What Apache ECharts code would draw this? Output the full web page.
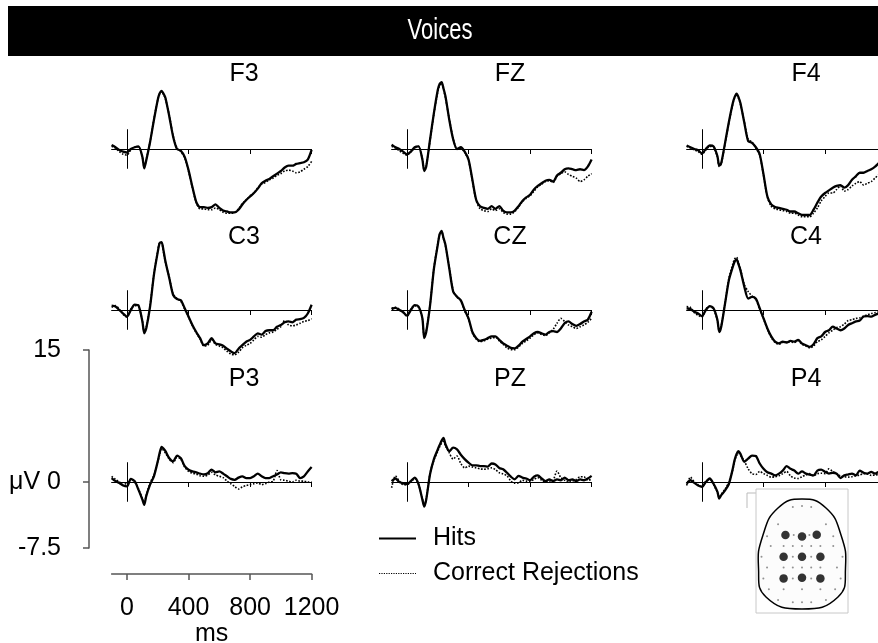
<!DOCTYPE html>
<html>
<head>
<meta charset="utf-8">
<title>Voices</title>
<script src="https://cdn.jsdelivr.net/npm/echarts@6/dist/echarts.min.js"></script>
<style>
  html, body { margin: 0; padding: 0; background: #fff; }
  #main { width: 878px; height: 643px; }
</style>
</head>
<body>
<div id="main"></div>
<script>
// sample times in ms
const times = [-100, -75, -50, -25, 0, 25, 50, 75, 100, 112, 125, 150, 175, 200, 212, 225, 237,
  250, 275, 300, 325, 350, 375, 400, 425, 450, 475, 500, 525, 550, 575, 600, 625, 650, 675,
  700, 725, 750, 775, 800, 825, 850, 875, 900, 925, 950, 975, 1000, 1025, 1050, 1075, 1100, 1125,
  1150, 1175, 1200];

// amplitudes in microvolts, one value per time point
const f3Hits = [0.45, 0.2, -0.1, -0.3, -0.4, 0, 0.2, 0.3, -0.9,
  -2.2, -1.3, 0.8, 3.3, 5.6, 6.3, 6.6, 6.3,
  5.8, 3.7, 1.4, 0, -0.2, -0.9, -2.4, -4.3, -6.0,
  -6.6, -6.6, -6.7, -6.6, -6.3, -6.7, -7.0, -7.1, -7.2,
  -7.2, -6.9, -6.3, -5.8, -5.4, -5.0, -4.5, -3.9, -3.6,
  -3.4, -3.1, -2.8, -2.5, -2.1, -1.9, -1.9, -1.7, -1.6,
  -1.5, -1.2, -0.1];
const f3Cr = [0.3, 0.1, -0.3, -0.6, -0.7, -0.1, 0.2, 0.2, -0.9,
  -2.1, -1.2, 0.8, 3.4, 5.6, 6.3, 6.5, 6.2,
  5.7, 3.8, 1.5, 0.1, -0.3, -1.0, -2.5, -4.4, -6.1,
  -6.8, -6.8, -6.9, -6.9, -6.7, -6.9, -7.2, -7.3, -7.3,
  -7.2, -6.8, -6.2, -5.8, -5.3, -5.0, -4.4, -4.0, -3.8,
  -3.5, -3.3, -3.0, -2.8, -2.5, -2.4, -2.5, -2.7, -2.6,
  -2.3, -2.0, -1.4];
const fzHits = [0.5, 0.2, 0, -0.3, -0.6, -0.3, 0.2, 0.3, -1.2,
  -2.5, -2.0, 1.1, 4.1, 6.7, 7.4, 7.6, 6.9,
  6.0, 3.3, 1.1, 0, 0.2, -0.3, -1.2, -3.5, -5.8,
  -6.5, -6.7, -6.8, -6.5, -6.8, -6.5, -7.0, -7.2, -7.2,
  -7.0, -6.5, -5.9, -5.5, -5.2, -4.6, -4.2, -3.9, -3.6,
  -3.5, -3.7, -3.0, -2.7, -2.3, -2.2, -2.3, -2.4, -2.3,
  -2.4, -2.0, -1.2];
const fzCr = [0.3, 0.1, -0.2, -0.5, -0.7, -0.3, 0.1, 0.3, -1.1,
  -2.4, -1.9, 1.0, 4.0, 6.5, 7.2, 7.5, 6.8,
  5.8, 3.4, 1.2, 0, 0.1, -0.4, -1.3, -3.6, -5.9,
  -6.8, -7.0, -7.1, -6.8, -7.0, -6.8, -7.2, -7.4, -7.4,
  -7.1, -6.6, -6.0, -5.6, -5.3, -4.8, -4.3, -4.0, -3.7,
  -3.6, -3.8, -3.1, -2.8, -2.6, -2.9, -3.1, -3.3, -3.7,
  -3.5, -3.1, -2.8];
const f4Hits = [0.4, 0.2, 0, -0.15, -0.5, 0, 0.4, 0.3, -0.8,
  -1.9, -1.6, 0.7, 3.1, 5.2, 5.9, 6.3, 5.9,
  5.2, 3.0, 0.9, 0.7, 0.2, -0.6, -2.9, -5.4, -6.3,
  -6.6, -6.7, -6.8, -6.9, -7.1, -7.1, -7.3, -7.5, -7.5,
  -7.5, -6.9, -6.1, -5.4, -5.0, -4.7, -4.4, -4.2, -4.1,
  -4.4, -4.1, -3.5, -3.1, -2.7, -2.7, -2.5, -2.3, -2.0,
  -1.6, -1.3, -1.0];
const f4Cr = [0.3, 0.1, -0.1, -0.3, -0.6, -0.1, 0.3, 0.2, -0.9,
  -2.0, -1.7, 0.6, 3.0, 5.1, 5.8, 6.2, 5.8,
  5.1, 3.1, 1.1, 0.8, 0.1, -0.7, -3.0, -5.5, -6.5,
  -6.8, -6.9, -7.0, -7.1, -7.3, -7.3, -7.5, -7.7, -7.7,
  -7.7, -7.3, -6.7, -5.9, -5.4, -5.0, -5.0, -4.6, -4.2,
  -4.8, -4.6, -4.2, -3.9, -3.7, -4.1, -3.9, -3.7, -3.3,
  -2.9, -2.6, -2.3];
const c3Hits = [0.5, 0.4, 0, -0.4, -0.75, 0, 0.6, 0.5, -1.3,
  -2.65, -2.1, 0.4, 4.0, 6.6, 7.6, 7.7, 6.8,
  5.5, 3.6, 1.7, 1.25, 1.1, 0.2, -0.75, -1.7, -2.5,
  -3.2, -4.0, -3.8, -3.2, -3.8, -3.9, -4.05, -4.4, -4.7,
  -4.9, -4.4, -4.0, -3.6, -3.4, -3.0, -2.65, -2.8, -2.4,
  -2.3, -2.3, -1.9, -1.7, -1.4, -1.3, -1.4, -1.1, -1.05,
  -0.9, -0.4, 0.6];
const c3Cr = [0.3, 0.5, 0.1, -0.5, -0.8, 0.1, 0.5, 0.4, -1.2,
  -2.5, -2.0, 0.5, 4.1, 6.7, 7.6, 7.6, 6.6,
  5.4, 3.7, 1.8, 1.3, 1.0, 0.1, -0.8, -1.8, -2.6,
  -3.3, -4.1, -4.0, -3.4, -3.9, -4.1, -4.3, -4.7, -5.0,
  -5.1, -4.8, -4.3, -4.0, -3.8, -3.4, -3.0, -3.1, -2.8,
  -2.6, -2.5, -2.2, -1.9, -1.2, -1.7, -1.8, -1.7, -1.5,
  -1.3, -1.2, -1.0];
const czHits = [0.1, 0.25, 0, -0.25, -0.65, 0, 0.55, 0.4, -0.95,
  -3.2, -2.5, 0.55, 4.7, 7.4, 8.6, 9.0, 8.2,
  7.4, 4.7, 2.1, 1.5, 1.1, 0, -0.95, -2.5, -3.2,
  -3.5, -3.4, -3.2, -3.0, -3.0, -3.4, -3.8, -4.05, -4.3,
  -4.35, -4.05, -3.6, -3.3, -3.0, -2.65, -2.5, -2.65, -2.8,
  -2.5, -2.4, -2.5, -2.1, -1.5, -1.3, -1.6, -1.8, -1.6,
  -1.3, -1.1, -0.2];
const czCr = [0.2, 0.3, 0.1, -0.3, -0.7, 0.1, 0.5, 0.3, -1.0,
  -3.1, -2.4, 0.6, 4.8, 7.5, 8.6, 8.9, 8.1,
  7.3, 4.8, 2.2, 1.5, 1.0, -0.1, -1.0, -2.6, -3.3,
  -3.6, -3.5, -3.3, -3.2, -3.1, -3.5, -3.9, -4.3, -4.5,
  -4.5, -4.2, -3.8, -3.5, -3.2, -2.8, -2.6, -2.8, -2.9,
  -2.6, -2.2, -1.5, -0.95, -1.3, -1.7, -1.9, -2.1, -1.9,
  -1.7, -1.4, -0.95];
const c4Hits = [0.2, 0.1, -0.2, -0.4, -0.7, 0, 0.45, 0.2, -1.1,
  -2.5, -1.9, 0.75, 3.4, 4.9, 5.5, 5.75, 5.2,
  4.5, 2.65, 1.3, 1.5, 1.3, 0.2, -0.95, -2.1, -3.0,
  -3.6, -3.8, -3.6, -3.7, -3.5, -3.6, -3.4, -3.8, -4.0,
  -4.2, -3.9, -3.2, -3.0, -2.5, -2.3, -1.9, -2.1, -2.3,
  -2.1, -1.7, -1.5, -1.3, -1.2, -0.75, -0.7, -0.75, -0.55,
  -0.4, -0.3, -0.2];
const c4Cr = [0.4, 0.3, -0.3, -0.6, -0.8, 0.1, 0.4, 0.1, -1.2,
  -2.4, -1.8, 0.8, 3.6, 5.2, 5.8, 6.0, 5.4,
  4.6, 2.9, 2.1, 1.6, 1.2, 0.1, -1.0, -2.2, -3.1,
  -3.7, -3.9, -3.7, -3.6, -3.6, -3.7, -3.5, -3.9, -4.1,
  -4.3, -4.1, -3.6, -3.4, -3.0, -2.6, -2.3, -2.0, -1.9,
  -1.6, -1.2, -1.1, -0.95, -0.9, -0.7, -0.55, -0.4, -0.3,
  -0.2, -0.1, -0.1];
const p3Hits = [0.45, 0.1, -0.1, -0.4, -0.5, 0.35, 0.1, -0.9, -2.0,
  -2.6, -1.6, -0.3, 0.65, 2.35, 3.3, 4.0, 3.8,
  3.5, 2.7, 2.35, 3.0, 2.7, 1.8, 1.4, 1.2, 1.1,
  0.95, 0.85, 1.0, 1.4, 1.1, 1.2, 0.95, 0.65, 0.35,
  0.25, 0.5, 0.65, 0.45, 0.45, 0.65, 0.95, 0.65, 0.45,
  0.45, 0.65, 0.85, 1.1, 1.0, 0.95, 1.0, 0.95, 0.45,
  0.65, 1.2, 1.7];
const p3Cr = [0.65, 0.3, 0.0, -0.3, -0.1, 0.3, 0.0, -0.8, -1.9,
  -2.5, -1.5, -0.1, 0.8, 2.3, 3.1, 3.8, 3.6,
  3.3, 2.6, 2.2, 2.8, 2.6, 1.7, 1.2, 1.0, 0.9,
  0.7, 0.65, 0.8, 1.1, 0.8, 0.65, 0.5, 0.1, -0.2,
  -0.5, -0.8, -0.55, -0.4, -0.3, -0.2, -0.1, -0.3, -0.2,
  0.0, 0.1, 1.3, 0.25, 0.2, 0.1, 0.0, 0.2, 0.1,
  0.1, 0.0, 0.0];
const pzHits = [0.1, 0.4, 0, -0.15, -0.25, 0.1, 0.5, -0.25, -2.0,
  -2.8, -2.0, 0.9, 2.6, 3.7, 4.2, 4.7, 5.0,
  4.3, 3.5, 3.9, 3.7, 3.1, 2.6, 2.2, 1.9, 1.9,
  1.8, 1.8, 1.75, 2.1, 2.0, 1.6, 1.45, 1.05, 0.6,
  0.3, 0.7, 0.5, 0.4, 0.2, 0.6, 0.75, 0.4, 0.1,
  0.3, 0.1, 0.3, 0.2, 0.5, 0.2, 0.3, 0.1, 0.3,
  0.2, 0.4, 0.7];
const pzCr = [-0.65, 0.7, 0.1, -0.3, -0.3, 0.0, 0.4, -0.3, -1.9,
  -2.7, -1.9, 1.0, 2.5, 3.5, 4.0, 4.4, 4.6,
  4.1, 3.3, 2.6, 2.95, 2.1, 1.6, 1.8, 1.7, 1.6,
  1.5, 1.45, 1.5, 1.6, 1.4, 1.05, 0.9, 0.7, 0.1,
  -0.15, -0.1, 0.2, 0.1, 0.1, 0.3, 0.5, 0.2, 0.0,
  0.1, 0.2, 1.25, 0.5, 0.2, -0.05, 0.1, 0.3, 0.6,
  0.6, 0.2, 0.3];
const p4Hits = [-0.2, 0.2, -0.1, -0.4, -0.55, 0, 0.4, -0.2, -1.1,
  -1.9, -1.5, -0.95, -0.2, 1.5, 2.5, 3.2, 3.5,
  3.2, 2.3, 2.65, 3.0, 2.95, 2.1, 1.5, 1.1, 0.95,
  0.75, 0.95, 1.3, 1.8, 1.5, 1.3, 0.95, 1.2, 0.95,
  0.85, 0.75, 1.3, 1.4, 1.15, 0.95, 1.05, 0.95, 0.45,
  0.75, 0.85, 0.95, 0.75, 1.3, 1.05, 0.95, 1.15, 0.95,
  1.15, 1.0, 1.0];
const p4Cr = [-0.4, 0.55, 0.0, -0.3, -0.5, 0.1, 0.3, -0.3, -1.2,
  -1.8, -1.4, -0.8, 0.0, 1.4, 2.4, 3.0, 3.3,
  3.0, 2.4, 1.5, 0.95, 0.85, 1.2, 0.95, 0.75, 0.55,
  0.6, 0.7, 0.95, 1.2, 0.7, 0.45, 0.4, 0.6, 0.8,
  0.95, 0.7, 0.95, 1.0, 0.95, 1.5, 1.2, 0.9, 0.7,
  0.6, 0.55, 0.6, 0.7, 0.8, 0.95, 0.9, 0.75, 0.8,
  0.85, 0.9, 0.9];

const electrodes = ['F3', 'FZ', 'F4', 'C3', 'CZ', 'C4', 'P3', 'PZ', 'P4'];
const hitsData = [f3Hits, fzHits, f4Hits, c3Hits, czHits, c4Hits, p3Hits, pzHits, p4Hits];
const crData = [f3Cr, fzCr, f4Cr, c3Cr, czCr, c4Cr, p3Cr, pzCr, p4Cr];

// head map: electrode sites and the small reference dots (head units)
const siteXY = [[-0.9, 1.0], [0, 0.93], [0.8, 1.02], [-1, 0], [0, 0], [1, 0], [-1, -1], [0, -0.97], [1, -1]];
const gridDots = [[-0.5, 2.3], [0, 2.35], [0.5, 2.3], [-1.3, 1.5], [1.3, 1.5],
  [-1.9, 0.95], [-0.45, 1.0], [0.4, 1.0], [1.7, 0.95],
  [-1.7, 0.5], [-1.0, 0.5], [-0.5, 0.5], [0, 0.5], [0.5, 0.5], [1.0, 0.5], [1.7, 0.5],
  [-2.2, 0], [-0.5, 0], [0.5, 0], [2.2, 0],
  [-1.9, -0.5], [-1.0, -0.5], [-0.5, -0.5], [0, -0.5], [0.5, -0.5], [1.0, -0.5], [1.9, -0.5],
  [-2.1, -1], [-0.5, -1], [0.5, -1], [2.1, -1],
  [-1.8, -1.5], [-1, -1.5], [0, -1.5], [1, -1.5], [1.8, -1.5],
  [-1.3, -2.0], [-0.5, -2.1], [0, -2.1], [0.5, -2.1], [1.3, -2.0]];

const scaleTicks = [-7.5, 0, 15];
const timeTicks = [0, 400, 800, 1200];

// layout
const FONT = '"Liberation Sans", Arial, sans-serif';
const colZero = [127, 407, 702];   // x pixel of 0 ms per column
const rowBase = [149, 310, 482];   // y pixel of 0 uV per row
const labelX = [244, 510, 806];
const labelY = [74, 237, 379];
const PX_UV = 8.8;
const PANEL_W = 200;
const PRE = 100 * PANEL_W / 1300;
const HALF = 2.2;

const chart = echarts.init(document.getElementById('main'));

const grid = [], xAxis = [], yAxis = [], series = [];
const graphic = [
  { type: 'rect', shape: { x: 8, y: 6, width: 870, height: 50 }, style: { fill: '#000' } },
  { type: 'text', x: 440, y: 31, scaleX: 0.76, style: { text: 'Voices', fill: '#fff', align: 'center', verticalAlign: 'middle',
    font: '29px ' + FONT } }
];

electrodes.forEach((name, i) => {
  const c = i % 3, r = Math.floor(i / 3);
  grid.push({ left: colZero[c] - PRE, top: rowBase[r] - HALF * PX_UV, width: PANEL_W, height: 2 * HALF * PX_UV,
    outerBoundsMode: 'none' });
  xAxis.push({
    type: 'value', gridIndex: i, min: -100, max: 1200,
    axisLine: { onZero: true, lineStyle: { color: '#000', width: 1 } },
    axisTick: { show: true, length: 5, customValues: [400, 800, 1200], lineStyle: { color: '#000' } },
    axisLabel: { show: false }, splitLine: { show: false }
  });
  yAxis.push({
    type: 'value', gridIndex: i, min: -HALF, max: HALF,
    axisLine: { show: true, onZero: true, lineStyle: { color: '#000', width: 1 } },
    axisTick: { show: false }, axisLabel: { show: false }, splitLine: { show: false }
  });
  series.push({
    name: 'Correct Rejections', type: 'line', xAxisIndex: i, yAxisIndex: i,
    data: times.map((t, k) => [t, crData[i][k]]),
    symbol: 'none', clip: false, smooth: 0.25,
    itemStyle: { color: '#000' },
    lineStyle: { color: '#000', width: 1.6, type: 'dotted' }
  });
  series.push({
    name: 'Hits', type: 'line', xAxisIndex: i, yAxisIndex: i,
    data: times.map((t, k) => [t, hitsData[i][k]]),
    symbol: 'none', clip: false, smooth: 0.25,
    itemStyle: { color: '#000' },
    lineStyle: { color: '#000', width: 2.3 }
  });
  graphic.push({ type: 'text', x: labelX[c], y: labelY[r],
    style: { text: name, fill: '#000', align: 'center', verticalAlign: 'middle', font: '25px ' + FONT } });
});

// amplitude scale bar
const gScale = grid.length;
grid.push({ left: 89, top: rowBase[2] - 15 * PX_UV, width: 10, height: 22.5 * PX_UV, outerBoundsMode: 'none' });
xAxis.push({ type: 'value', gridIndex: gScale, min: 0, max: 1, show: false });
yAxis.push({
  type: 'value', gridIndex: gScale, min: -7.5, max: 15,
  axisLine: { show: true, onZero: false, lineStyle: { color: '#555', width: 1.5 } },
  axisTick: { show: true, length: 6, customValues: scaleTicks, lineStyle: { color: '#555', width: 1.5 } },
  axisLabel: {
    customValues: scaleTicks, margin: 28, color: '#000', fontFamily: FONT, fontSize: 25,
    formatter: v => v === 0 ? '{u|μV}0' : String(v),
    rich: { u: { width: 38, align: 'left', fontFamily: FONT, fontSize: 25, color: '#000' } }
  },
  splitLine: { show: false }
});

// time scale bar
const gTime = grid.length;
grid.push({ left: colZero[0] - PRE, top: 560, width: PANEL_W, height: 14, outerBoundsMode: 'none' });
xAxis.push({
  type: 'value', gridIndex: gTime, min: -100, max: 1200,
  axisLine: { onZero: false, lineStyle: { color: '#555', width: 1.5 } },
  axisTick: { show: true, length: 6, customValues: timeTicks, lineStyle: { color: '#555', width: 1.5 } },
  axisLabel: { customValues: timeTicks, margin: 22, color: '#000', fontFamily: FONT, fontSize: 25,
    formatter: v => String(v) },
  splitLine: { show: false },
  name: 'ms', nameLocation: 'middle', nameGap: 47,
  nameTextStyle: { color: '#000', fontFamily: FONT, fontSize: 25 }
});
yAxis.push({ type: 'value', gridIndex: gTime, min: 0, max: 1, show: false });

// head inset
const gHead = grid.length;
graphic.push({ type: 'polyline', shape: { points: [[747, 508], [747, 493], [756, 493]] },
  style: { stroke: '#bbb', lineWidth: 1, fill: null } });
graphic.push({ type: 'rect', shape: { x: 756, y: 489, width: 92, height: 124 },
  style: { stroke: '#c8c8c8', lineWidth: 1, fill: '#fff' } });
graphic.push({ type: 'polygon', shape: {
    points: [[802, 499], [826, 508], [841, 535], [845.5, 568], [838, 597], [802, 609],
             [766, 597], [758.5, 568], [763, 535], [778, 508]],
    smooth: 0.5 },
  style: { stroke: '#000', lineWidth: 1.5, fill: '#fcfcfc' } });
grid.push({ left: 756, top: 489, width: 92, height: 124, outerBoundsMode: 'none' });
xAxis.push({ type: 'value', gridIndex: gHead, min: -2.5, max: 2.5, show: false });
yAxis.push({ type: 'value', gridIndex: gHead, min: -2.6, max: 3.13, show: false });
series.push({ type: 'scatter', xAxisIndex: gHead, yAxisIndex: gHead, data: gridDots,
  symbolSize: 2, itemStyle: { color: '#777' }, silent: true });
series.push({ type: 'scatter', xAxisIndex: gHead, yAxisIndex: gHead, data: siteXY,
  symbolSize: 8.5, itemStyle: { color: '#000' }, silent: true });

chart.setOption({
  animation: false,
  backgroundColor: '#fff',
  textStyle: { fontFamily: FONT },
  legend: {
    orient: 'vertical', left: 378, top: 526, padding: 0,
    itemWidth: 37, itemHeight: 14, itemGap: 10,
    itemStyle: { opacity: 0 },
    textStyle: { color: '#000', fontFamily: FONT, fontSize: 25, lineHeight: 25, padding: [0, 0, 0, 12] },
    data: [
      { name: 'Hits' },
      { name: 'Correct Rejections', lineStyle: { width: 1.2 } }
    ]
  },
  graphic: graphic,
  grid: grid,
  xAxis: xAxis,
  yAxis: yAxis,
  series: series
});
</script>
</body>
</html>
